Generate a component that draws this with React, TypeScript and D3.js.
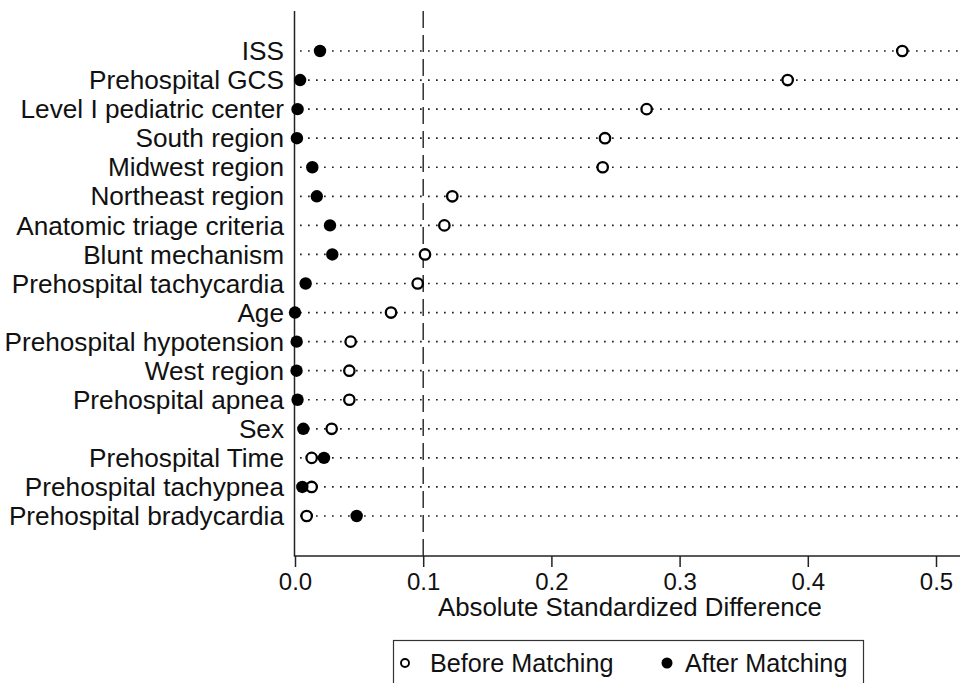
import React, { useEffect, useRef } from 'react';
import * as d3 from 'd3';

const categories = [
  'ISS',
  'Prehospital GCS',
  'Level I pediatric center',
  'South region',
  'Midwest region',
  'Northeast region',
  'Anatomic triage criteria',
  'Blunt mechanism',
  'Prehospital tachycardia',
  'Age',
  'Prehospital hypotension',
  'West region',
  'Prehospital apnea',
  'Sex',
  'Prehospital Time',
  'Prehospital tachypnea',
  'Prehospital bradycardia',
];

const beforeMatching = [
  0.4737, 0.3843, 0.2743, 0.2418, 0.240, 0.1227, 0.1165, 0.1014, 0.0957, 0.0749,
  0.0434, 0.0424, 0.0424, 0.0286, 0.013, 0.013, 0.0091,
];

const afterMatching = [
  0.0195, 0.004, 0.002, 0.0015, 0.0135, 0.017, 0.0273, 0.0291, 0.0083, 0.0,
  0.0013, 0.0012, 0.002, 0.0065, 0.0226, 0.0057, 0.0481,
];

const xTicks = [0, 0.1, 0.2, 0.3, 0.4, 0.5];
const refLine = 0.1;

const App: React.FC = () => {
  const ref = useRef<SVGSVGElement>(null);

  useEffect(() => {
    const width = 960;
    const height = 683;
    const font = '"Liberation Sans", Arial, sans-serif';

    const svg = d3.select(ref.current);
    svg.selectAll('*').remove();
    svg.attr('width', width).attr('height', height);

    const x = d3.scaleLinear().domain([0, 0.5]).range([295, 936]);
    const y = d3.scalePoint<string>().domain(categories).range([51, 516]);

    const axisY = 556;
    const top = 11;

    // dotted row guides
    svg
      .append('g')
      .selectAll('line')
      .data(categories)
      .enter()
      .append('line')
      .attr('x1', x(0) + 5)
      .attr('x2', width)
      .attr('y1', (d) => y(d)!)
      .attr('y2', (d) => y(d)!)
      .attr('stroke', '#222')
      .attr('stroke-width', 1.7)
      .attr('stroke-dasharray', '1.7,6.3');

    // reference line at 0.1
    svg
      .append('line')
      .attr('x1', x(refLine))
      .attr('x2', x(refLine))
      .attr('y1', top)
      .attr('y2', axisY)
      .attr('stroke', '#222')
      .attr('stroke-width', 1.4)
      .attr('stroke-dasharray', '17,7');

    // left axis line
    svg
      .append('line')
      .attr('x1', x(0) - 0.5)
      .attr('x2', x(0) - 0.5)
      .attr('y1', top)
      .attr('y2', axisY)
      .attr('stroke', '#222')
      .attr('stroke-width', 1.5);

    // bottom axis
    const gx = svg
      .append('g')
      .attr('transform', `translate(0,${axisY})`)
      .call(
        d3
          .axisBottom(x)
          .tickValues(xTicks)
          .tickFormat(d3.format('.1f'))
          .tickSize(11)
          .tickSizeOuter(0)
          .tickPadding(6)
      );
    gx.select('.domain').remove();
    gx.selectAll('.tick line').attr('stroke', '#222').attr('stroke-width', 1.5);
    gx.selectAll('.tick text')
      .attr('fill', '#111')
      .attr('font-family', font)
      .attr('font-size', 24);
    gx.append('line')
      .attr('x1', x(0) - 1.2)
      .attr('x2', width)
      .attr('stroke', '#222')
      .attr('stroke-width', 1.5);

    svg
      .append('text')
      .attr('x', 630)
      .attr('y', 616)
      .attr('text-anchor', 'middle')
      .attr('font-family', font)
      .attr('font-size', 25.8)
      .attr('fill', '#111')
      .text('Absolute Standardized Difference');

    // row labels
    svg
      .append('g')
      .selectAll('text')
      .data(categories)
      .enter()
      .append('text')
      .attr('x', 284)
      .attr('y', (d) => y(d)!)
      .attr('dy', '0.35em')
      .attr('text-anchor', 'end')
      .attr('font-family', font)
      .attr('font-size', 26.2)
      .attr('fill', '#111')
      .text((d) => d);

    // before matching (open)
    svg
      .append('g')
      .selectAll('circle')
      .data(beforeMatching)
      .enter()
      .append('circle')
      .attr('cx', (d) => x(d))
      .attr('cy', (_, i) => y(categories[i])!)
      .attr('r', 5.2)
      .attr('fill', '#fff')
      .attr('stroke', '#000')
      .attr('stroke-width', 2.3);

    // after matching (filled)
    svg
      .append('g')
      .selectAll('circle')
      .data(afterMatching)
      .enter()
      .append('circle')
      .attr('cx', (d) => x(d))
      .attr('cy', (_, i) => y(categories[i])!)
      .attr('r', 6.2)
      .attr('fill', '#000');

    // legend
    const legend = svg.append('g');
    legend
      .append('rect')
      .attr('x', 393.5)
      .attr('y', 640.5)
      .attr('width', 470)
      .attr('height', 60)
      .attr('fill', 'none')
      .attr('stroke', '#333')
      .attr('stroke-width', 1.2);
    legend
      .append('circle')
      .attr('cx', 405)
      .attr('cy', 663)
      .attr('r', 4)
      .attr('fill', '#fff')
      .attr('stroke', '#000')
      .attr('stroke-width', 1.9);
    legend
      .append('text')
      .attr('x', 430)
      .attr('y', 672)
      .attr('font-family', font)
      .attr('font-size', 25.2)
      .attr('fill', '#111')
      .text('Before Matching');
    legend
      .append('circle')
      .attr('cx', 667)
      .attr('cy', 663)
      .attr('r', 5.5)
      .attr('fill', '#000');
    legend
      .append('text')
      .attr('x', 685)
      .attr('y', 672)
      .attr('font-family', font)
      .attr('font-size', 25.2)
      .attr('fill', '#111')
      .text('After Matching');
  }, []);

  return (
    <svg
      ref={ref}
      style={{ position: 'absolute', left: 0, top: 0, display: 'block', background: '#fff' }}
    />
  );
};

export default App;
